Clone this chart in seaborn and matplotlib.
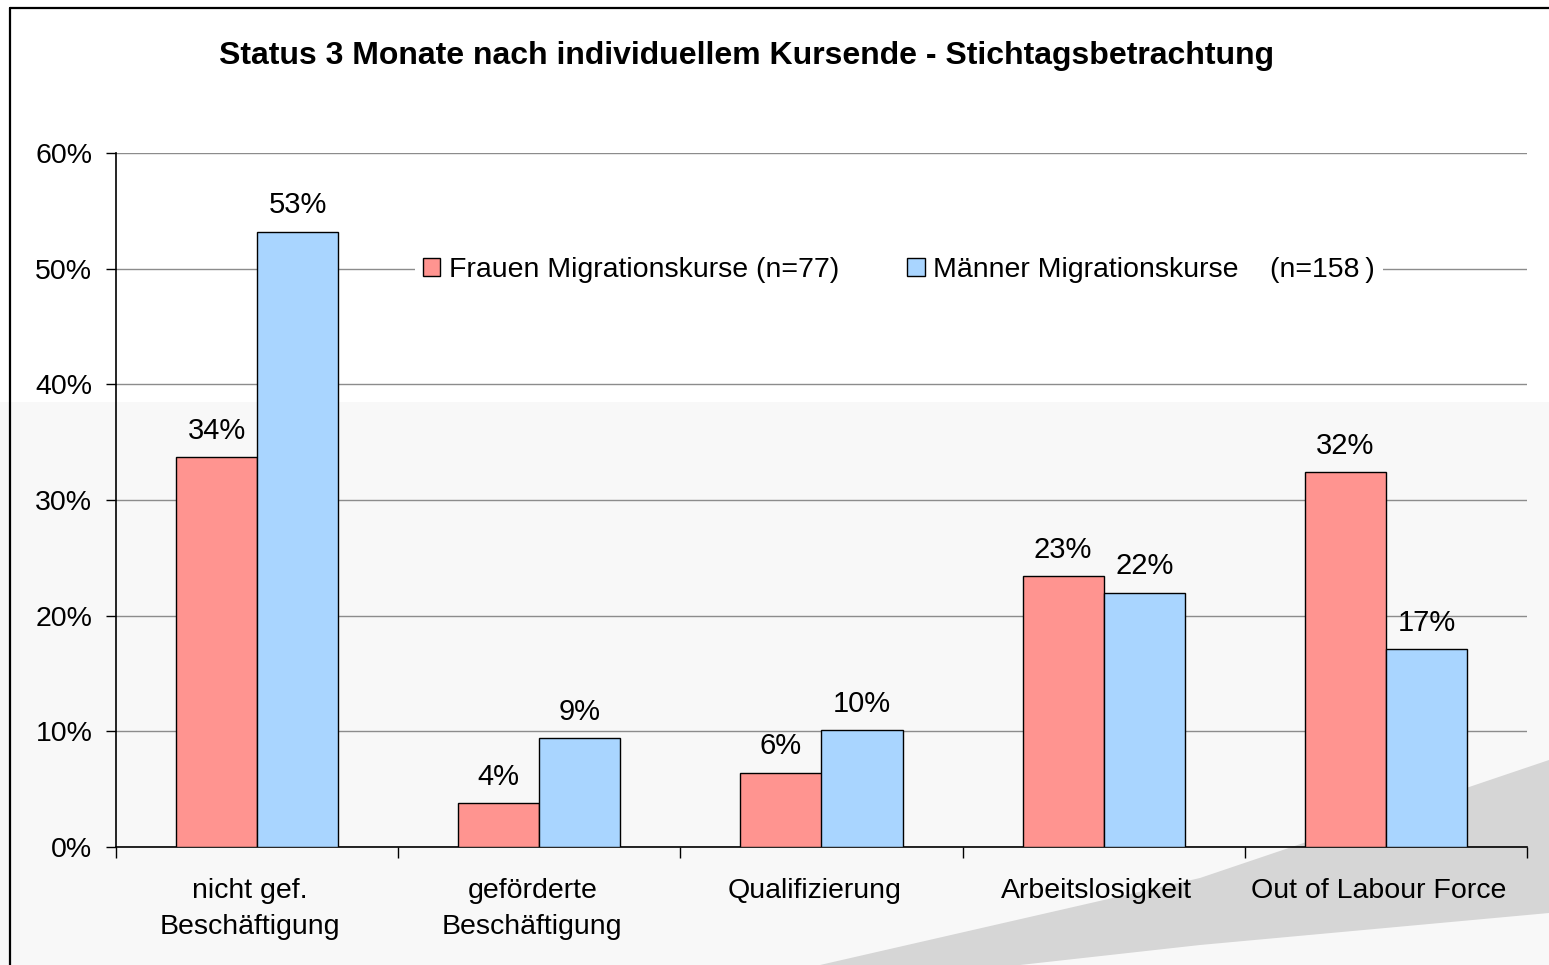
import pandas as pd
import matplotlib.pyplot as plt
import seaborn as sns
from matplotlib.patches import Rectangle, Polygon
from matplotlib.lines import Line2D
from matplotlib.ticker import FixedLocator, PercentFormatter
from matplotlib.transforms import ScaledTranslation

categories = ["nicht gef.\nBeschäftigung", "geförderte\nBeschäftigung",
              "Qualifizierung", "Arbeitslosigkeit", "Out of Labour Force"]
frauen = [33.7, 3.8, 6.4, 23.4, 32.4]
maenner = [53.2, 9.4, 10.1, 22.0, 17.1]
series_labels = ["Frauen Migrationskurse (n=77)",
                 "Männer Migrationskurse    (n=158\u2009)"]
colors = ["#FF9490", "#A9D5FF"]

data = pd.DataFrame({
    "Kategorie": categories * 2,
    "Anteil": frauen + maenner,
    "Gruppe": [series_labels[0]] * len(categories) + [series_labels[1]] * len(categories),
})

sns.set_style("white")
plt.rcParams["font.family"] = ["Liberation Sans", "DejaVu Sans"]
plt.rcParams["text.color"] = "black"
plt.rcParams["xtick.color"] = "black"
plt.rcParams["ytick.color"] = "black"

W, H = 1549, 965
fig = plt.figure(figsize=(W / 100, H / 100), dpi=100)
fig.patch.set_facecolor("white")

# slide background: light lower band and grey swoosh
fig.patches.append(Rectangle((0, 0), 1, 1 - 402 / H, transform=fig.transFigure,
                             facecolor="#f8f8f8", edgecolor="none", zorder=-3))
swoosh = [(820, 965), (1200, 878), (1549, 760), (1549, 913), (1200, 945), (1020, 965)]
fig.patches.append(Polygon([(x / W, 1 - y / H) for x, y in swoosh], closed=True,
                           transform=fig.transFigure, facecolor="#d6d6d6",
                           edgecolor="none", zorder=-2))
# frame lines of the slide object
fig.add_artist(Line2D([10 / W, 10 / W], [0, 1 - 8 / H], transform=fig.transFigure,
                      color="black", lw=1.6))
fig.add_artist(Line2D([10 / W, 1], [1 - 8 / H, 1 - 8 / H], transform=fig.transFigure,
                      color="black", lw=1.6))

ax = fig.add_axes([116 / W, 1 - 847 / H, (1527 - 116) / W, (847 - 153) / H])
ax.patch.set_alpha(0)

sns.barplot(data=data, x="Kategorie", y="Anteil", hue="Gruppe", palette=colors,
            saturation=1, width=0.575, edgecolor="black", linewidth=1, ax=ax, zorder=3)

ax.set_ylim(0, 60)
ax.set_xlim(-0.5, len(categories) - 0.5)
ax.yaxis.set_major_locator(FixedLocator(range(0, 61, 10)))
ax.yaxis.set_major_formatter(PercentFormatter(decimals=0))
ax.grid(axis="y", color="#8c8c8c", lw=1)
ax.set_axisbelow(True)
ax.set_xlabel("")
ax.set_ylabel("")

for side in ("top", "right"):
    ax.spines[side].set_visible(False)
for side in ("left", "bottom"):
    ax.spines[side].set_color("black")
    ax.spines[side].set_linewidth(1.2)

ax.tick_params(axis="y", direction="out", length=7, width=1, color="black",
               labelsize=20.5, pad=10, left=True)
ax.tick_params(axis="x", which="major", length=0, labelsize=20.5, pad=22)
shift = ScaledTranslation(-7 / 100, 0, fig.dpi_scale_trans)
for lbl in ax.get_xticklabels():
    lbl.set_linespacing(1.5)
    lbl.set_transform(lbl.get_transform() + shift)
ax.set_xticks([i - 0.5 for i in range(len(categories) + 1)], minor=True)
ax.tick_params(axis="x", which="minor", direction="out", length=8, width=1,
               color="black", bottom=True)

for container in ax.containers:
    ax.bar_label(container, labels=[f"{v:.0f}%" for v in container.datavalues],
                 padding=9, fontsize=21)

sns.move_legend(ax, loc="center", bbox_to_anchor=(899 / W, 1 - 270 / H),
                bbox_transform=fig.transFigure, ncol=2, title=None, fontsize=20.5,
                frameon=True, facecolor="white", edgecolor="none", framealpha=1,
                handlelength=0.6, handleheight=0.6, handletextpad=0.3,
                columnspacing=2.4, borderpad=0.3)
for h in ax.get_legend().legend_handles:
    h.set_edgecolor("black")
    h.set_linewidth(1)

fig.text(747 / W, 1 - 56 / H,
         "Status 3 Monate nach individuellem Kursende - Stichtagsbetrachtung",
         ha="center", va="center", fontsize=23, fontweight="bold")

fig.savefig("out.png", dpi=100)
